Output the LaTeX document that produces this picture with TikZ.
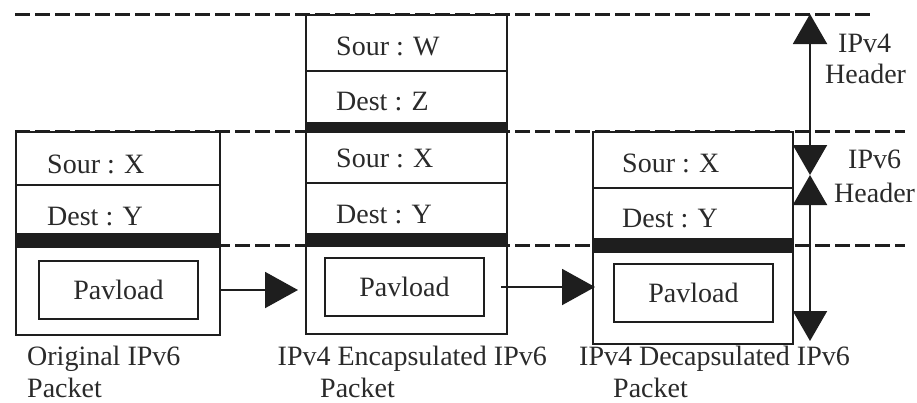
\documentclass[tikz,border=0pt]{standalone}
\usepackage{fontspec}
\setmainfont{Liberation Serif}
\usetikzlibrary{arrows.meta,calc}
\definecolor{ink}{HTML}{1E1E1E}
\definecolor{txt}{HTML}{2A2A2A}
\begin{document}
\begin{tikzpicture}[x=1pt,y=-1pt,
  box/.style={draw=ink,fill=white,line width=2pt,inner sep=0pt,anchor=north west},
  payload/.style={box,minimum width=159pt,minimum height=58pt,text=txt,font=\fontsize{28}{32}\selectfont},
  lbl/.style={anchor=base west,inner sep=0pt,text=txt,font=\fontsize{28}{32}\selectfont},
  lble/.style={lbl,anchor=base east},
  guide/.style={draw=ink,line width=3pt,dash pattern=on 15pt off 5pt},
  rule/.style={draw=ink,line width=2pt},
  bar/.style={fill=ink,draw=none},
  flow/.style={draw=ink,line width=2pt,-{Triangle[length=33pt,width=36pt]}},
  span/.style={draw=ink,line width=2pt,{Triangle[length=30pt,width=34pt]}-{Triangle[length=30pt,width=34pt]}}]
\useasboundingbox (0,0) rectangle (917,402);

% level guides
\draw[guide] (15,14) -- (873,14);
\draw[guide] (15,131) -- (905,131);
\draw[guide] (15,245) -- (905,245);

% original IPv6 packet
\node[box,minimum width=204pt,minimum height=203pt] (p1) at (15,131) {};
\draw[rule] (15,185) -- (219,185);
\fill[bar] (15,233) rectangle (219,248);
\node[payload] (q1) at (38,260) {Pavload};
\node[lbl] (s1) at (47,173) {Sour : X};
\node[lbl] (d1) at (47,225) {Dest : Y};

% IPv4 encapsulated packet
\node[box,minimum width=201pt,minimum height=319pt] (p2) at (305,14) {};
\draw[rule] (305,71) -- (506,71);
\fill[bar] (305,122) rectangle (506,133);
\draw[rule] (305,183) -- (506,183);
\fill[bar] (305,233) rectangle (506,247);
\node[payload] (q2) at (324,257) {Pavload};
\node[lbl] (s2a) at (336,55) {Sour : W};
\node[lbl] (d2a) at (336,110) {Dest : Z};
\node[lbl] (s2) at (336,167) {Sour : X};
\node[lbl] (d2) at (336,223) {Dest : Y};

% IPv4 decapsulated packet
\node[box,minimum width=200pt,minimum height=212pt] (p3) at (592,131) {};
\draw[rule] (592,188) -- (792,188);
\fill[bar] (592,238) rectangle (792,253);
\node[payload] (q3) at (613,263) {Pavload};
\node[lbl] (s3) at (622,172) {Sour : X};
\node[lbl] (d3) at (622,227) {Dest : Y};

% flow between packets
\draw[flow,shorten >=7pt] (q1.center -| p1.east) -- (q1.center -| p2.west);
\draw[flow,shorten >=-3pt] ($(q2.east)+(16,0)$) -- (q2.center -| p3.west);

% header extents
\coordinate (v0) at (810,14);
\coordinate (v1) at (810,175);
\coordinate (v2) at (810,341);
\draw[span] (v0) -- (v1);
\draw[span] (v1) -- (v2);
\node[lbl] (h4a) at (838,52) {IPv4};
\node[lbl] (h4b) at (825,83) {Header};
\node[lbl] (h6a) at (848,168) {IPv6};
\node[lbl] (h6b) at (834,202) {Header};

% captions
\node[lbl] (c1a) at (27,365) {Original IPv6};
\node[lbl] (c1b) at (27,397) {Packet};
\node[lble] (c2a) at (547,365) {IPv4 Encapsulated IPv6};
\node[lbl] (c2b) at (320,397) {Packet};
\node[lble] (c3a) at (850,365) {IPv4 Decapsulated IPv6};
\node[lbl] (c3b) at (613,397) {Packet};
\end{tikzpicture}
\end{document}
